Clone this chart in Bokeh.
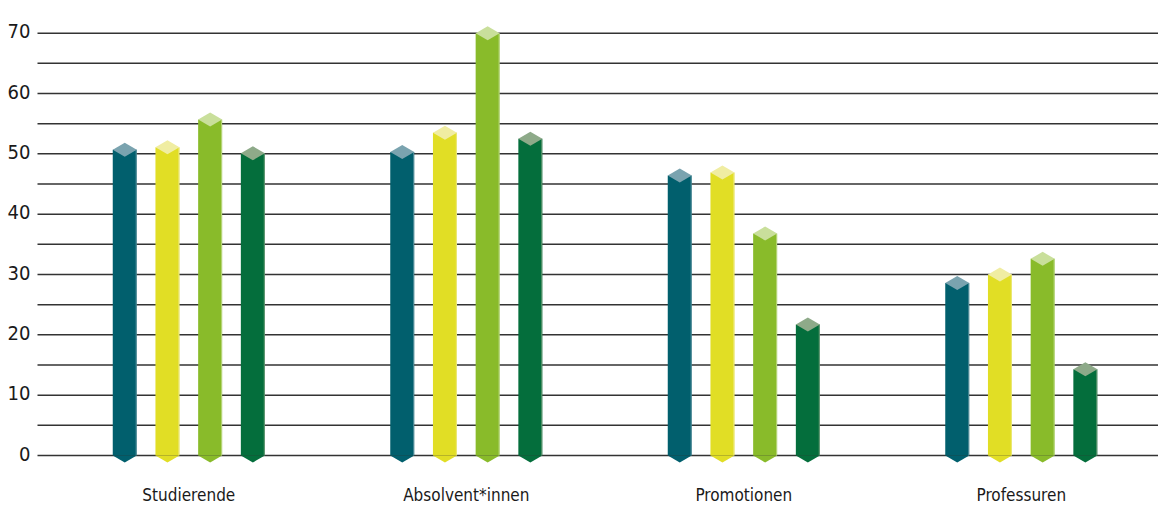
from bokeh.plotting import figure
from bokeh.models import Range1d
from bokeh.embed import file_html
from bokeh.resources import INLINE
from bokeh.core.properties import value

# ---- data ----
categories = ["Studierende", "Absolvent*innen", "Promotionen", "Professuren"]
series_1 = [50.7, 50.3, 46.4, 28.6]
series_2 = [51.1, 53.5, 46.9, 30.0]
series_3 = [55.7, 70.0, 36.8, 32.6]
series_4 = [50.1, 52.5, 21.7, 14.3]
y_ticks = [0, 10, 20, 30, 40, 50, 60, 70]
y_tick_labels = ["0", "10", "20", "30", "40", "50", "60", "70"]
grid_levels = [0, 5, 10, 15, 20, 25, 30, 35, 40, 45, 50, 55, 60, 65, 70]

# ---- styling / geometry ----
W, H = 1158, 507
PX_X = 277.5          # pixels per category unit
PX_Y = 6.033          # pixels per value unit
X0 = -188.3 / PX_X
X1 = X0 + W / PX_X
Y1 = 455 / PX_Y
Y0 = Y1 - H / PX_Y


def px_x(px):
    return X0 + px / PX_X


def px_y(py):
    return Y1 - py / PX_Y


body_colors = ["#015f6d", "#e1de25", "#89bb2a", "#046e3c"]
cap_colors = ["#7aa3af", "#f0eda2", "#c9df9b", "#8eaa89"]
offsets = [-64.05 / PX_X, -21.35 / PX_X, 21.35 / PX_X, 64.05 / PX_X]
bar_w = 24 / PX_X
cap_h = 7 / PX_Y
tip_h = 7 / PX_Y
FONT = "DejaVu Sans Condensed, Liberation Sans Narrow, Roboto"

p = figure(width=W, height=H, x_range=Range1d(X0, X1), y_range=Range1d(Y0, Y1),
           toolbar_location=None, output_backend="svg", min_border=0,
           outline_line_color=None, background_fill_color="white",
           border_fill_color="white")
p.axis.visible = False
p.grid.visible = False

# gridlines
p.segment(x0=[px_x(37)] * len(grid_levels), x1=[X1] * len(grid_levels),
          y0=grid_levels, y1=grid_levels, line_color="#333333", line_width=1.5)

# y labels
p.text(x=[px_x(30)] * len(y_ticks), y=y_ticks, text=y_tick_labels,
       text_align="right", text_baseline="alphabetic", y_offset=-2,
       text_font=value(FONT), text_font_size="20px", text_color="#1a1a1a")

# bars
all_series = [series_1, series_2, series_3, series_4]
for s, vals in enumerate(all_series):
    xs = [i + offsets[s] for i in range(len(categories))]
    p.vbar(x=xs, top=vals, bottom=0, width=bar_w, fill_color=body_colors[s],
           line_color=None)
    # bottom chevron
    p.patches(xs=[[x - bar_w / 2, x, x + bar_w / 2] for x in xs],
              ys=[[0, -tip_h, 0] for _ in xs],
              fill_color=body_colors[s], line_color=None)
    # right highlight edge
    p.segment(x0=[x + bar_w / 2 - 0.6 / PX_X for x in xs],
              x1=[x + bar_w / 2 - 0.6 / PX_X for x in xs],
              y0=[0] * len(xs), y1=vals, line_color=cap_colors[s],
              line_width=1, line_alpha=0.7)
    # top cap
    p.patches(xs=[[x - bar_w / 2, x, x + bar_w / 2, x] for x in xs],
              ys=[[v, v + cap_h, v, v - cap_h] for v in vals],
              fill_color=cap_colors[s], line_color=None)

# category labels
p.text(x=list(range(len(categories))), y=[px_y(494)] * len(categories),
       text=categories, text_align="center", text_baseline="middle",
       text_font=value(FONT), text_font_size="17px", text_color="#1a1a1a")

open("out.html", "w").write(file_html(p, INLINE))
